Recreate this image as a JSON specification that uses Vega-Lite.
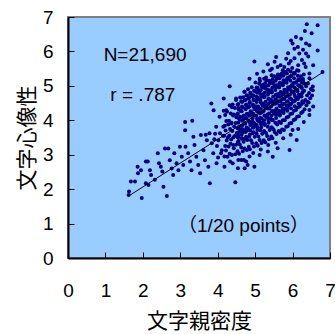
{
"$schema":"https://vega.github.io/schema/vega-lite/v6.json",
"width":262,"height":241,
"autosize":{"type":"none"},
"padding":{"left":68,"top":17,"right":5,"bottom":76},
"config":{"view":{"fill":"#99CCFF","stroke":"#808080","strokeWidth":2},
"font":"Liberation Sans, Noto Sans CJK JP",
"axis":{"grid":false,"tickSize":-6,"tickColor":"black","tickWidth":1,"domainColor":"black","domainWidth":2,"labelFontSize":19,"labelColor":"black","labelFont":"Liberation Sans","labelOverlap":false,"labelFlush":false,"titleFontSize":21,"titleFontWeight":"normal","titleColor":"black","titleFont":"Noto Sans CJK JP","values":[0,0.5,1,1.5,2,2.5,3,3.5,4,4.5,5,5.5,6,6.5,7],"labelExpr":"datum.value % 1 == 0 ? datum.label : ''"}},
"layer":[
{"data":{"values":[
{"x":1.63,"y":1.93},{"x":1.62,"y":1.83},{"x":1.68,"y":2.22},{"x":1.79,"y":2.22},{"x":1.86,"y":2.65},{"x":1.87,"y":2.46},{"x":1.97,"y":1.74},{"x":1.95,"y":2.55},{"x":2.08,"y":2.80},{"x":2.13,"y":2.80},{"x":2.08,"y":2.17},{"x":2.15,"y":2.12},{"x":2.19,"y":2.55},{"x":2.22,"y":2.41},{"x":2.32,"y":2.27},{"x":2.40,"y":3.04},{"x":2.43,"y":2.75},{"x":2.48,"y":2.65},{"x":2.52,"y":2.51},{"x":2.55,"y":2.07},{"x":2.64,"y":1.80},{"x":2.59,"y":3.18},{"x":2.68,"y":3.18},{"x":2.72,"y":2.84},{"x":2.77,"y":2.60},{"x":2.81,"y":2.41},{"x":2.84,"y":3.04},{"x":2.90,"y":2.75},{"x":2.95,"y":2.55},{"x":2.99,"y":3.23},{"x":3.04,"y":2.94},{"x":3.08,"y":2.70},{"x":3.13,"y":3.71},{"x":3.14,"y":3.23},{"x":3.21,"y":3.04},{"x":3.26,"y":2.80},{"x":3.30,"y":2.55},{"x":3.35,"y":3.52},{"x":3.38,"y":3.28},{"x":3.43,"y":2.94},{"x":3.48,"y":2.70},{"x":3.53,"y":2.46},{"x":3.55,"y":3.57},{"x":3.62,"y":3.13},{"x":3.66,"y":2.84},{"x":3.71,"y":3.42},{"x":3.75,"y":2.65},{"x":3.79,"y":2.17},{"x":3.84,"y":3.33},{"x":3.88,"y":3.04},{"x":3.93,"y":3.61},{"x":3.97,"y":2.75},{"x":4.02,"y":3.42},{"x":4.11,"y":3.13},{"x":4.15,"y":3.81},{"x":3.13,"y":3.95},{"x":3.32,"y":3.99},{"x":3.83,"y":4.49},{"x":3.89,"y":4.29},{"x":4.05,"y":4.10},{"x":4.16,"y":4.63},{"x":3.96,"y":3.81},{"x":4.06,"y":3.62},{"x":3.98,"y":3.25},{"x":4.09,"y":3.04},{"x":4.14,"y":3.55},{"x":3.91,"y":3.45},{"x":4.01,"y":2.92},{"x":4.18,"y":2.65},{"x":3.78,"y":3.62},{"x":3.68,"y":3.58},
{"x":4.23,"y":4.29},{"x":4.32,"y":4.99},{"x":4.33,"y":2.80},{"x":4.36,"y":3.91},{"x":4.40,"y":2.75},{"x":4.47,"y":2.20},{"x":4.49,"y":4.59},{"x":4.54,"y":2.61},{"x":4.63,"y":2.85},{"x":4.72,"y":2.61},{"x":4.76,"y":2.80},{"x":4.72,"y":4.83},{"x":4.98,"y":5.71},{"x":4.85,"y":5.21},{"x":5.12,"y":5.21},{"x":5.34,"y":5.63},{"x":5.40,"y":5.45},{"x":5.56,"y":5.84},{"x":5.60,"y":5.55},{"x":5.74,"y":5.45},{"x":5.83,"y":5.79},{"x":5.90,"y":5.65},{"x":5.96,"y":6.32},{"x":6.00,"y":6.23},{"x":6.09,"y":6.42},{"x":6.14,"y":6.13},{"x":6.18,"y":5.94},{"x":6.23,"y":6.37},{"x":6.33,"y":6.59},{"x":6.38,"y":6.79},{"x":6.51,"y":6.53},{"x":6.67,"y":6.76},{"x":6.36,"y":6.23},{"x":6.45,"y":6.18},{"x":6.67,"y":6.03},{"x":6.36,"y":5.94},{"x":6.31,"y":5.65},{"x":6.45,"y":5.36},{"x":6.80,"y":5.40},{"x":6.54,"y":4.87},{"x":6.45,"y":4.30},{"x":6.40,"y":4.54},{"x":6.11,"y":3.43},{"x":5.92,"y":3.14},{"x":6.00,"y":3.72},{"x":5.60,"y":3.19},{"x":5.47,"y":2.94},{"x":5.34,"y":3.09},{"x":5.12,"y":2.99},{"x":4.98,"y":2.65},{"x":4.80,"y":2.70},
{"x":5.05,"y":5.35},{"x":5.22,"y":5.42},{"x":5.45,"y":5.50},{"x":5.52,"y":5.70},{"x":5.68,"y":5.60},{"x":5.78,"y":5.55},{"x":5.95,"y":5.72},{"x":6.05,"y":5.80},{"x":6.15,"y":5.60},{"x":6.25,"y":5.75},{"x":6.35,"y":5.55},{"x":6.42,"y":5.85},{"x":6.55,"y":5.60},{"x":6.28,"y":6.05},{"x":6.05,"y":6.08},{"x":5.88,"y":5.95},
{"x":5.15,"y":3.15},{"x":5.35,"y":3.28},{"x":5.55,"y":3.35},{"x":5.75,"y":3.48},{"x":5.95,"y":3.58},{"x":6.15,"y":3.75},{"x":6.30,"y":3.95},{"x":6.45,"y":4.15},{"x":6.55,"y":4.40},{"x":4.95,"y":3.05},{"x":4.70,"y":2.85},{"x":4.55,"y":2.85},{"x":4.85,"y":2.95},
{"x":4.18,"y":2.95},{"x":4.22,"y":3.12},{"x":4.20,"y":3.25},{"x":4.24,"y":3.41},{"x":4.17,"y":3.55},{"x":4.21,"y":3.70},{"x":4.19,"y":3.84},{"x":4.23,"y":3.98},{"x":4.20,"y":4.15},{"x":4.16,"y":4.28},
{"x":4.26,"y":2.94},{"x":4.32,"y":3.03},{"x":4.29,"y":3.24},{"x":4.34,"y":3.32},{"x":4.27,"y":3.50},{"x":4.31,"y":3.56},{"x":4.33,"y":3.75},{"x":4.28,"y":3.88},{"x":4.30,"y":3.99},{"x":4.35,"y":4.20},{"x":4.25,"y":4.25},{"x":4.32,"y":4.44},
{"x":4.38,"y":2.99},{"x":4.43,"y":3.19},{"x":4.41,"y":3.28},{"x":4.36,"y":3.44},{"x":4.42,"y":3.51},{"x":4.39,"y":3.69},{"x":4.44,"y":3.82},{"x":4.37,"y":3.93},{"x":4.41,"y":4.14},{"x":4.43,"y":4.17},{"x":4.38,"y":4.38},{"x":4.40,"y":4.46},
{"x":4.47,"y":3.01},{"x":4.53,"y":3.10},{"x":4.49,"y":3.29},{"x":4.54,"y":3.37},{"x":4.46,"y":3.55},{"x":4.51,"y":3.63},{"x":4.55,"y":3.80},{"x":4.48,"y":3.92},{"x":4.50,"y":4.09},{"x":4.52,"y":4.17},{"x":4.46,"y":4.36},{"x":4.53,"y":4.45},{"x":4.49,"y":4.63},
{"x":4.57,"y":3.03},{"x":4.63,"y":3.21},{"x":4.59,"y":3.30},{"x":4.64,"y":3.48},{"x":4.56,"y":3.55},{"x":4.61,"y":3.74},{"x":4.65,"y":3.84},{"x":4.58,"y":4.02},{"x":4.60,"y":4.10},{"x":4.62,"y":4.28},{"x":4.56,"y":4.36},{"x":4.63,"y":4.55},{"x":4.60,"y":4.66},
{"x":4.67,"y":3.10},{"x":4.72,"y":3.18},{"x":4.69,"y":3.38},{"x":4.74,"y":3.47},{"x":4.66,"y":3.65},{"x":4.71,"y":3.71},{"x":4.73,"y":3.90},{"x":4.68,"y":4.02},{"x":4.70,"y":4.14},{"x":4.75,"y":4.33},{"x":4.65,"y":4.40},{"x":4.72,"y":4.58},{"x":4.68,"y":4.67},{"x":4.71,"y":4.83},
{"x":4.78,"y":3.14},{"x":4.83,"y":3.23},{"x":4.79,"y":3.43},{"x":4.84,"y":3.52},{"x":4.76,"y":3.69},{"x":4.81,"y":3.76},{"x":4.85,"y":3.94},{"x":4.77,"y":4.07},{"x":4.80,"y":4.18},{"x":4.82,"y":4.38},{"x":4.76,"y":4.44},{"x":4.83,"y":4.63},{"x":4.79,"y":4.71},{"x":4.81,"y":4.90},
{"x":4.86,"y":3.16},{"x":4.92,"y":3.34},{"x":4.89,"y":3.42},{"x":4.94,"y":3.62},{"x":4.87,"y":3.70},{"x":4.91,"y":3.88},{"x":4.93,"y":3.97},{"x":4.88,"y":4.15},{"x":4.90,"y":4.24},{"x":4.95,"y":4.41},{"x":4.85,"y":4.50},{"x":4.92,"y":4.69},{"x":4.88,"y":4.78},{"x":4.91,"y":4.96},
{"x":4.97,"y":3.24},{"x":5.03,"y":3.33},{"x":4.99,"y":3.52},{"x":5.04,"y":3.61},{"x":4.96,"y":3.79},{"x":5.01,"y":3.86},{"x":5.05,"y":4.04},{"x":4.98,"y":4.14},{"x":5.00,"y":4.33},{"x":5.02,"y":4.41},{"x":4.96,"y":4.59},{"x":5.03,"y":4.68},{"x":4.99,"y":4.86},{"x":5.04,"y":4.95},{"x":5.01,"y":5.10},
{"x":5.07,"y":3.26},{"x":5.12,"y":3.43},{"x":5.09,"y":3.53},{"x":5.14,"y":3.71},{"x":5.06,"y":3.80},{"x":5.11,"y":3.98},{"x":5.13,"y":4.07},{"x":5.08,"y":4.25},{"x":5.10,"y":4.34},{"x":5.15,"y":4.52},{"x":5.05,"y":4.60},{"x":5.12,"y":4.79},{"x":5.08,"y":4.88},{"x":5.11,"y":5.06},{"x":5.13,"y":5.14},
{"x":5.17,"y":3.34},{"x":5.23,"y":3.42},{"x":5.19,"y":3.61},{"x":5.24,"y":3.69},{"x":5.16,"y":3.88},{"x":5.21,"y":3.95},{"x":5.25,"y":4.14},{"x":5.18,"y":4.23},{"x":5.20,"y":4.42},{"x":5.22,"y":4.49},{"x":5.16,"y":4.68},{"x":5.23,"y":4.77},{"x":5.19,"y":4.96},{"x":5.21,"y":5.03},{"x":5.24,"y":5.21},
{"x":5.27,"y":3.36},{"x":5.32,"y":3.54},{"x":5.29,"y":3.63},{"x":5.34,"y":3.81},{"x":5.26,"y":3.89},{"x":5.31,"y":4.08},{"x":5.33,"y":4.17},{"x":5.28,"y":4.35},{"x":5.30,"y":4.43},{"x":5.35,"y":4.62},{"x":5.25,"y":4.70},{"x":5.32,"y":4.89},{"x":5.28,"y":4.98},{"x":5.31,"y":5.16},{"x":5.29,"y":5.24},
{"x":5.37,"y":3.45},{"x":5.43,"y":3.53},{"x":5.39,"y":3.72},{"x":5.44,"y":3.80},{"x":5.36,"y":3.99},{"x":5.41,"y":4.06},{"x":5.45,"y":4.26},{"x":5.38,"y":4.34},{"x":5.40,"y":4.53},{"x":5.42,"y":4.60},{"x":5.36,"y":4.80},{"x":5.43,"y":4.87},{"x":5.39,"y":5.07},{"x":5.41,"y":5.14},{"x":5.44,"y":5.31},
{"x":5.46,"y":3.48},{"x":5.52,"y":3.66},{"x":5.49,"y":3.74},{"x":5.54,"y":3.93},{"x":5.47,"y":4.01},{"x":5.51,"y":4.20},{"x":5.53,"y":4.28},{"x":5.48,"y":4.47},{"x":5.50,"y":4.55},{"x":5.55,"y":4.74},{"x":5.45,"y":4.82},{"x":5.52,"y":5.01},{"x":5.48,"y":5.09},{"x":5.51,"y":5.28},
{"x":5.57,"y":3.60},{"x":5.63,"y":3.69},{"x":5.59,"y":3.88},{"x":5.64,"y":3.96},{"x":5.56,"y":4.15},{"x":5.61,"y":4.22},{"x":5.65,"y":4.42},{"x":5.58,"y":4.50},{"x":5.60,"y":4.69},{"x":5.62,"y":4.76},{"x":5.56,"y":4.96},{"x":5.63,"y":5.03},{"x":5.59,"y":5.23},{"x":5.61,"y":5.33},
{"x":5.67,"y":3.65},{"x":5.72,"y":3.73},{"x":5.69,"y":3.92},{"x":5.74,"y":4.00},{"x":5.66,"y":4.19},{"x":5.71,"y":4.26},{"x":5.73,"y":4.46},{"x":5.68,"y":4.54},{"x":5.70,"y":4.73},{"x":5.75,"y":4.80},{"x":5.65,"y":5.00},{"x":5.72,"y":5.07},{"x":5.68,"y":5.27},{"x":5.71,"y":5.36},
{"x":5.77,"y":3.72},{"x":5.83,"y":3.81},{"x":5.79,"y":4.00},{"x":5.84,"y":4.08},{"x":5.76,"y":4.27},{"x":5.81,"y":4.34},{"x":5.85,"y":4.54},{"x":5.78,"y":4.62},{"x":5.80,"y":4.81},{"x":5.82,"y":4.88},{"x":5.76,"y":5.08},{"x":5.83,"y":5.15},{"x":5.79,"y":5.35},{"x":5.81,"y":5.40},
{"x":5.87,"y":3.83},{"x":5.92,"y":3.91},{"x":5.89,"y":4.10},{"x":5.94,"y":4.18},{"x":5.86,"y":4.37},{"x":5.91,"y":4.44},{"x":5.93,"y":4.64},{"x":5.88,"y":4.72},{"x":5.90,"y":4.91},{"x":5.95,"y":4.98},{"x":5.85,"y":5.18},{"x":5.92,"y":5.26},{"x":5.88,"y":5.47},
{"x":5.97,"y":3.92},{"x":6.03,"y":4.01},{"x":5.99,"y":4.20},{"x":6.04,"y":4.28},{"x":5.96,"y":4.47},{"x":6.01,"y":4.54},{"x":6.05,"y":4.74},{"x":5.98,"y":4.82},{"x":6.00,"y":5.01},{"x":6.02,"y":5.08},{"x":5.96,"y":5.28},{"x":6.03,"y":5.35},{"x":5.99,"y":5.52},
{"x":6.07,"y":4.03},{"x":6.12,"y":4.10},{"x":6.09,"y":4.30},{"x":6.14,"y":4.37},{"x":6.06,"y":4.57},{"x":6.11,"y":4.64},{"x":6.13,"y":4.84},{"x":6.08,"y":4.91},{"x":6.10,"y":5.11},{"x":6.15,"y":5.18},{"x":6.05,"y":5.38},{"x":6.12,"y":5.45},
{"x":6.17,"y":4.12},{"x":6.23,"y":4.21},{"x":6.19,"y":4.40},{"x":6.24,"y":4.47},{"x":6.16,"y":4.67},{"x":6.21,"y":4.74},{"x":6.25,"y":4.94},{"x":6.18,"y":5.01},{"x":6.20,"y":5.21},{"x":6.22,"y":5.28},{"x":6.16,"y":5.44},
{"x":6.27,"y":4.25},{"x":6.32,"y":4.32},{"x":6.29,"y":4.52},{"x":6.34,"y":4.59},{"x":6.26,"y":4.79},{"x":6.31,"y":4.86},{"x":6.33,"y":5.06},{"x":6.28,"y":5.13},{"x":6.30,"y":5.33},
{"x":6.37,"y":4.44},{"x":6.43,"y":4.52},{"x":6.39,"y":4.72},{"x":6.44,"y":4.79},{"x":6.36,"y":4.99},{"x":6.41,"y":5.07},{"x":6.45,"y":5.22},
{"x":6.47,"y":4.64},{"x":6.52,"y":4.72},{"x":6.49,"y":4.91},{"x":6.54,"y":4.98},
{"x":4.56,"y":3.40},{"x":4.54,"y":3.50},{"x":4.57,"y":3.66},{"x":4.53,"y":3.77},{"x":4.55,"y":3.93},{"x":4.58,"y":4.04},{"x":4.54,"y":4.20},{"x":4.56,"y":4.31},{"x":4.55,"y":4.47},
{"x":4.66,"y":3.46},{"x":4.64,"y":3.58},{"x":4.67,"y":3.73},{"x":4.63,"y":3.84},{"x":4.65,"y":3.99},{"x":4.68,"y":4.11},{"x":4.64,"y":4.26},{"x":4.66,"y":4.38},{"x":4.65,"y":4.53},
{"x":4.76,"y":3.52},{"x":4.74,"y":3.66},{"x":4.77,"y":3.79},{"x":4.73,"y":3.92},{"x":4.75,"y":4.06},{"x":4.78,"y":4.19},{"x":4.74,"y":4.33},{"x":4.76,"y":4.46},{"x":4.75,"y":4.60},{"x":4.77,"y":4.73},
{"x":4.86,"y":3.59},{"x":4.84,"y":3.72},{"x":4.87,"y":3.86},{"x":4.83,"y":3.99},{"x":4.85,"y":4.13},{"x":4.88,"y":4.26},{"x":4.84,"y":4.40},{"x":4.86,"y":4.53},{"x":4.85,"y":4.67},{"x":4.87,"y":4.80},
{"x":4.96,"y":3.65},{"x":4.94,"y":3.79},{"x":4.97,"y":3.92},{"x":4.93,"y":4.06},{"x":4.95,"y":4.19},{"x":4.98,"y":4.33},{"x":4.94,"y":4.46},{"x":4.96,"y":4.60},{"x":4.95,"y":4.73},{"x":4.97,"y":4.86},
{"x":5.06,"y":3.72},{"x":5.04,"y":3.86},{"x":5.07,"y":3.99},{"x":5.03,"y":4.13},{"x":5.05,"y":4.26},{"x":5.08,"y":4.40},{"x":5.04,"y":4.53},{"x":5.06,"y":4.67},{"x":5.05,"y":4.80},{"x":5.07,"y":4.94},
{"x":5.16,"y":3.79},{"x":5.14,"y":3.93},{"x":5.17,"y":4.06},{"x":5.13,"y":4.20},{"x":5.15,"y":4.33},{"x":5.18,"y":4.47},{"x":5.14,"y":4.60},{"x":5.16,"y":4.74},{"x":5.15,"y":4.87},{"x":5.17,"y":5.00},
{"x":5.26,"y":3.86},{"x":5.24,"y":4.00},{"x":5.27,"y":4.13},{"x":5.23,"y":4.27},{"x":5.25,"y":4.40},{"x":5.28,"y":4.54},{"x":5.24,"y":4.67},{"x":5.26,"y":4.81},{"x":5.25,"y":4.94},{"x":5.27,"y":5.08},
{"x":5.36,"y":3.93},{"x":5.34,"y":4.07},{"x":5.37,"y":4.20},{"x":5.33,"y":4.34},{"x":5.35,"y":4.47},{"x":5.38,"y":4.61},{"x":5.34,"y":4.74},{"x":5.36,"y":4.88},{"x":5.35,"y":5.01},{"x":5.37,"y":5.15},
{"x":5.46,"y":4.00},{"x":5.44,"y":4.14},{"x":5.47,"y":4.27},{"x":5.43,"y":4.41},{"x":5.45,"y":4.54},{"x":5.48,"y":4.68},{"x":5.44,"y":4.81},{"x":5.46,"y":4.95},{"x":5.45,"y":5.08},{"x":5.47,"y":5.20},
{"x":5.56,"y":4.07},{"x":5.54,"y":4.21},{"x":5.57,"y":4.34},{"x":5.53,"y":4.48},{"x":5.55,"y":4.61},{"x":5.58,"y":4.75},{"x":5.54,"y":4.88},{"x":5.56,"y":5.02},{"x":5.55,"y":5.15},{"x":5.57,"y":5.25},
{"x":5.66,"y":4.14},{"x":5.64,"y":4.28},{"x":5.67,"y":4.41},{"x":5.63,"y":4.55},{"x":5.65,"y":4.68},{"x":5.68,"y":4.82},{"x":5.64,"y":4.95},{"x":5.66,"y":5.09},{"x":5.65,"y":5.22},{"x":5.67,"y":5.32},
{"x":5.76,"y":4.21},{"x":5.74,"y":4.35},{"x":5.77,"y":4.48},{"x":5.73,"y":4.62},{"x":5.75,"y":4.75},{"x":5.78,"y":4.89},{"x":5.74,"y":5.02},{"x":5.76,"y":5.16},{"x":5.75,"y":5.29},
{"x":5.86,"y":4.28},{"x":5.84,"y":4.42},{"x":5.87,"y":4.55},{"x":5.83,"y":4.69},{"x":5.85,"y":4.82},{"x":5.88,"y":4.96},{"x":5.84,"y":5.09},{"x":5.86,"y":5.23},{"x":5.85,"y":5.36},
{"x":5.96,"y":4.34},{"x":5.94,"y":4.48},{"x":5.97,"y":4.61},{"x":5.93,"y":4.75},{"x":5.95,"y":4.88},{"x":5.98,"y":5.02},{"x":5.94,"y":5.15},{"x":5.96,"y":5.29},{"x":5.95,"y":5.42},
{"x":6.06,"y":4.41},{"x":6.04,"y":4.55},{"x":6.07,"y":4.68},{"x":6.03,"y":4.82},{"x":6.05,"y":4.95},{"x":6.08,"y":5.09},{"x":6.04,"y":5.22},{"x":6.06,"y":5.36},
{"x":6.16,"y":4.48},{"x":6.14,"y":4.62},{"x":6.17,"y":4.75},{"x":6.13,"y":4.89},{"x":6.15,"y":5.02},{"x":6.18,"y":5.16},{"x":6.14,"y":5.29},
{"x":6.26,"y":4.55},{"x":6.24,"y":4.69},{"x":6.27,"y":4.82},{"x":6.23,"y":4.96},{"x":6.25,"y":5.09},{"x":6.28,"y":5.20}
]},
"mark":{"type":"circle","size":16,"opacity":1,"color":"#000080"},
"encoding":{
"x":{"field":"x","type":"quantitative","scale":{"domain":[0,7],"nice":false},"axis":{"title":"文字親密度","labelPadding":29,"titlePadding":10}},
"y":{"field":"y","type":"quantitative","scale":{"domain":[0,7],"nice":false},"axis":{"title":"文字心像性","labelPadding":21,"titlePadding":5}}}},
{"data":{"values":[{"x":1.62,"y":1.80},{"x":6.82,"y":5.40}]},
"mark":{"type":"line","color":"black","strokeWidth":1},
"encoding":{"x":{"field":"x","type":"quantitative"},"y":{"field":"y","type":"quantitative"}}},
{"data":{"values":[{"label":"N=21,690","x":2.06,"y":5.73},{"label":"r = .787","x":2.0,"y":4.55},{"label":"（1/20 points）","x":4.69,"y":0.76}]},
"mark":{"type":"text","fontSize":19,"color":"black","align":"center","baseline":"alphabetic","font":"Liberation Sans, Noto Sans CJK JP"},
"encoding":{"x":{"field":"x","type":"quantitative"},"y":{"field":"y","type":"quantitative"},"text":{"field":"label"}}}
]}
